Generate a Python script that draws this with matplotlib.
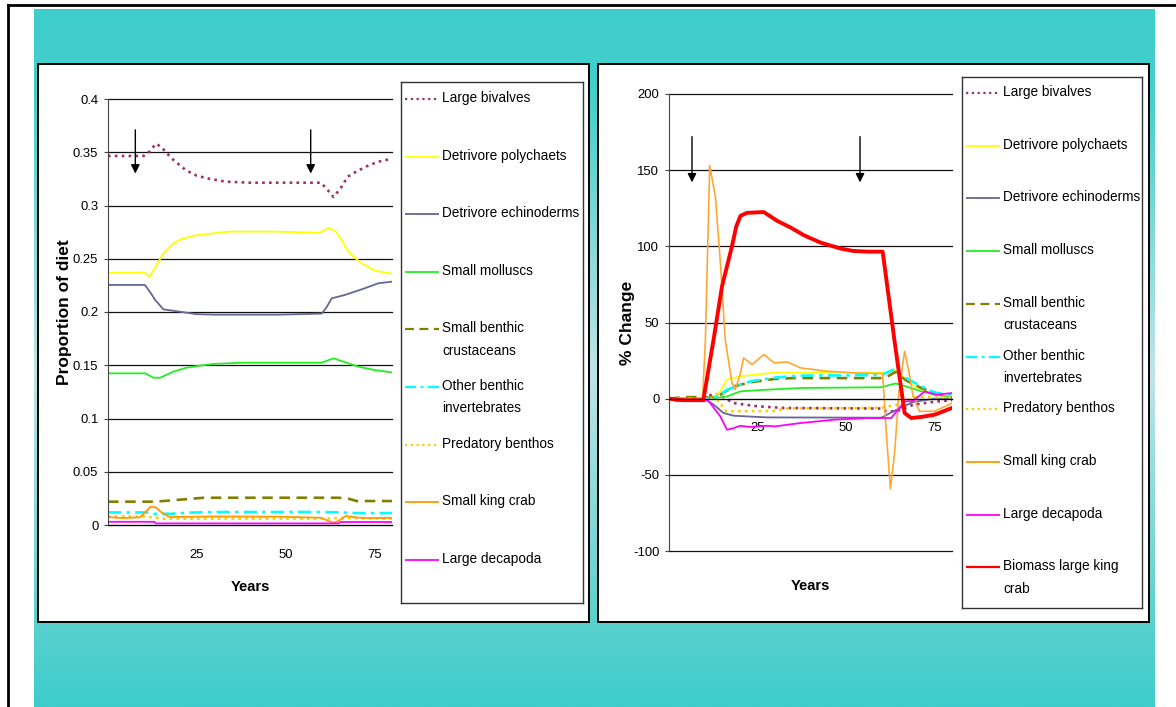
"""Diet proportion and % change of benthic prey groups under large king crab biomass pulse."""

import matplotlib
matplotlib.use("Agg")
import matplotlib.pyplot as plt
import numpy as np
from matplotlib import font_manager as fm
from matplotlib.colors import LinearSegmentedColormap
from matplotlib.lines import Line2D
from matplotlib.patches import Rectangle

W, H = 1176, 707

# ---------------- data ----------------
# left panel: proportion of diet
L_BIV_X = [0, 10, 11.5, 13.5, 15, 18, 22, 25, 28, 33, 40, 50, 60, 61.5, 63.5, 65.5, 67.5, 70, 73, 76, 80]
L_BIV_Y = [0.3465, 0.3465, 0.350, 0.358, 0.355, 0.344, 0.333, 0.328, 0.3255, 0.3224, 0.3214, 0.3214,
           0.3214, 0.316, 0.308, 0.316, 0.327, 0.332, 0.337, 0.341, 0.344]
L_POL_X = [0, 10.4, 11.6, 13, 15.6, 18.4, 21, 24.9, 30, 34.2, 47, 59.7, 62, 64, 65.8, 67.7, 69.5, 71.5, 75.2, 80]
L_POL_Y = [0.237, 0.237, 0.233, 0.240, 0.255, 0.2645, 0.269, 0.272, 0.274, 0.2755, 0.2755, 0.2745, 0.279,
           0.276, 0.2676, 0.2566, 0.251, 0.2457, 0.2388, 0.236]
L_ECH_X = [0, 10.4, 12, 13.3, 15.6, 20.2, 24.9, 30, 48, 60.2, 61.5, 63, 66.7, 71.5, 76.2, 80]
L_ECH_Y = [0.2254, 0.2254, 0.218, 0.2113, 0.2025, 0.2003, 0.198, 0.1975, 0.1975, 0.1985, 0.204, 0.2128,
           0.216, 0.2213, 0.227, 0.2285]
L_MOL_X = [0, 10.5, 12.8, 14.7, 18.4, 22.1, 25.8, 29.6, 37.9, 60.2, 63.5, 67.7, 70.5, 75.1, 80]
L_MOL_Y = [0.1424, 0.1424, 0.1383, 0.1383, 0.144, 0.1477, 0.1496, 0.1512, 0.1524, 0.1524, 0.1565, 0.1518,
           0.1487, 0.1455, 0.1433]
L_CRU_X = [0, 12, 16, 20, 27, 65, 68, 70, 80]
L_CRU_Y = [0.0219, 0.0219, 0.0226, 0.0237, 0.0256, 0.0256, 0.0245, 0.0225, 0.0225]
L_INV_X = [0, 11, 13, 18, 22, 30, 60, 66, 70, 80]
L_INV_Y = [0.0118, 0.0118, 0.0105, 0.0105, 0.0115, 0.0122, 0.0122, 0.0118, 0.0112, 0.0112]
L_PRE_X = [0, 10, 13, 16, 30, 60, 65, 68, 80]
L_PRE_Y = [0.008, 0.008, 0.007, 0.0058, 0.006, 0.006, 0.0065, 0.0065, 0.006]
L_SKC_X = [0, 4, 9, 10.5, 12, 13.5, 15, 17, 18, 30, 48, 60, 62, 63.5, 65, 67, 69, 72, 80]
L_SKC_Y = [0.0075, 0.0065, 0.0072, 0.012, 0.0172, 0.0165, 0.012, 0.008, 0.0075, 0.008, 0.0078, 0.0068,
           0.004, 0.002, 0.004, 0.0085, 0.0075, 0.0065, 0.0065]
L_DEC_X = [0, 13, 13.5, 65, 65.5, 80]
L_DEC_Y = [0.003, 0.003, 0.0015, 0.0015, 0.0028, 0.0028]

# right panel: % change
R_BIV_X = [0, 10, 12.3, 14, 16, 18.3, 24.9, 32.4, 60, 61.5, 64.4, 69, 75, 80]
R_BIV_Y = [0, 0, 3, 3, 0, -2.9, -5, -6.1, -6.5, -8.3, -8.3, -4, -2, -1]
R_POL_X = [0, 11, 12.5, 14.5, 16.4, 20.2, 25.9, 30, 62, 63.5, 65.5, 69.4, 75, 80]
R_POL_Y = [0, 0, 1, 4.8, 12.5, 14.7, 16.2, 17.1, 17.1, 19, 16, 8.1, 2.6, 1]
R_ECH_X = [0, 10, 12.6, 15.4, 18.3, 27.7, 60, 64.4, 69, 75, 80]
R_ECH_Y = [0, 0, -3.9, -9.4, -11.2, -12.3, -12.5, -7.2, -2.2, 0, 0]
R_MOL_X = [0, 12, 16.4, 20.2, 27.7, 37.2, 60, 64, 67, 71.3, 75, 80]
R_MOL_Y = [0, 0, 1.5, 4.8, 5.9, 7, 7.5, 10, 8, 4.8, 2.6, 1]
R_CRU_X = [0, 4, 10, 12, 14.5, 18.3, 23, 29.7, 35, 61, 64, 67, 71.3, 75, 80]
R_CRU_Y = [0, 1, 1, 0.5, 2.6, 8.1, 10.7, 12.9, 13.5, 13.5, 17.5, 12, 7, 4, 1]
R_INV_X = [0, 12, 14, 16.4, 23, 30.6, 37.2, 60, 63.5, 66, 69.4, 75, 80]
R_INV_Y = [0, 0, 2, 5.9, 11.4, 14, 15.1, 15.5, 19, 15, 10.5, 4, 2]
R_PRE_X = [0, 12, 14.5, 15.4, 16.4, 30, 33, 60, 64.4, 69.4, 80]
R_PRE_Y = [0, 0, -1.8, -7.2, -8.3, -8, -6.5, -6, -4, 1, 1]
R_SKC_X = [0, 9.5, 10.3, 11.5, 13.1, 14.5, 15.9, 17.8, 18.7, 20, 21.1, 23.5, 26.8, 29.7, 33.4, 37.2, 44.8,
           52.4, 60.4, 61.5, 62.6, 63.8, 65, 66.6, 67.8, 69, 70.8, 75, 80]
R_SKC_Y = [0, 0, 38.8, 153, 133, 90, 38.8, 10.3, 6, 15, 26.8, 22.4, 29, 23.5, 24.1, 20.2, 18, 16.9, 16.4,
           -25, -59.4, -35, 5, 31.1, 18, 1.5, -8.3, -8.3, -3]
R_DEC_X = [0, 2, 10, 11, 14.5, 16.4, 18.3, 20.2, 23, 27.7, 30, 37.2, 46.7, 56.2, 62.8, 66.6, 69, 72.3, 75.6, 80]
R_DEC_Y = [0, -1.5, -1.5, -1, -11.6, -20.4, -19.3, -17.8, -18.6, -17.8, -18.2, -16, -13.8, -12.7, -12.7,
           -1.8, -1.5, 4.8, 2.6, 3.7]
R_BIO_X = [0, 4, 9.7, 12.6, 15, 17.8, 19, 20.2, 22.1, 26.8, 30.6, 34.4, 38.2, 42.9, 48.6, 52, 56.2, 60.4,
           63.7, 66.6, 68.5, 71.3, 75.1, 80]
R_BIO_Y = [0, -1, -1, 38.8, 73.9, 100, 113, 120, 122, 122.5, 116.7, 112.3, 107.2, 102.4, 98.5, 97, 96.5,
           96.5, 38.8, -9.4, -12.7, -12, -10.5, -6.1]

LABELS = ["Large bivalves", "Detrivore polychaets", "Detrivore echinoderms", "Small molluscs",
          "Small benthic\ncrustaceans", "Other benthic\ninvertebrates", "Predatory benthos",
          "Small king crab", "Large decapoda", "Biomass large king\ncrab"]

LEFT_YTICKS = [0, 0.05, 0.1, 0.15, 0.2, 0.25, 0.3, 0.35, 0.4]
LEFT_YTICKLABELS = ["0", "0.05", "0.1", "0.15", "0.2", "0.25", "0.3", "0.35", "0.4"]
RIGHT_YTICKS = [-100, -50, 0, 50, 100, 150, 200]
XTICKS = [25, 50, 75]

# harvesting start/stop markers
LEFT_ARROW_X = [7.7, 57.1]
LEFT_ARROW_Y = (0.371, 0.330)
RIGHT_ARROW_X = [6.5, 54]
RIGHT_ARROW_Y = (172, 142)

# ---------------- styles ----------------
STYLES = [
    dict(color="#993366", ls=(0, (1, 1.6)), lw=1.9),   # large bivalves
    dict(color="#FFFF00", ls="-", lw=1.3),             # polychaets
    dict(color="#666699", ls="-", lw=1.3),             # echinoderms
    dict(color="#22EE22", ls="-", lw=1.3),             # molluscs
    dict(color="#808000", ls=(0, (4, 2.5)), lw=1.9),   # crustaceans
    dict(color="#00FFFF", ls=(0, (5, 2, 1.3, 2)), lw=1.9),  # other invertebrates
    dict(color="#FFCC00", ls=(0, (1, 1.6)), lw=1.9),   # predatory benthos
    dict(color="#FF9900", ls="-", lw=1.3),             # small king crab
    dict(color="#FF00FF", ls="-", lw=1.3),             # large decapoda
    dict(color="#FF0000", ls="-", lw=2.8),             # biomass large king crab
]


def pick_font():
    names = {f.name for f in fm.fontManager.ttflist}
    for cand in ("Liberation Sans Narrow", "Arial Narrow"):
        if cand in names:
            return [cand, "DejaVu Sans"], 1.0
    fams = [n for n in ("Liberation Sans", "DejaVu Sans") if n in names]
    return fams or ["DejaVu Sans"], 0.82


FAMILY, FS = pick_font()
plt.rcParams["font.family"] = FAMILY
plt.rcParams["axes.unicode_minus"] = False

TICK_FS = 11.5 * FS
LEG_FS = 12 * FS
XLAB_FS = 13 * FS


def fx(px):
    return px / W


def fy(py):
    return 1 - py / H


def axes_rect(x0, y0, x1, y1):
    return [fx(x0), fy(y1), fx(x1) - fx(x0), fy(y0) - fy(y1)]


fig = plt.figure(figsize=(W / 100, H / 100), dpi=100)
fig.patch.set_facecolor("white")

# teal gradient background
bg = fig.add_axes(axes_rect(34, 9, 1155, 707), zorder=-10)
cmap = LinearSegmentedColormap.from_list(
    "bg", [(0, "#3DCDCB"), (0.13, "#45CFCD"), (0.52, "#C0E4E7"), (0.87, "#5CD1CF"), (1, "#3DCDCB")])
bg.imshow(np.linspace(0, 1, 256).reshape(-1, 1), aspect="auto", cmap=cmap, extent=(0, 1, 0, 1))
bg.set_axis_off()

# outer frame lines
fig.add_artist(Line2D([fx(8), 1], [fy(5), fy(5)], color="black", lw=2))
fig.add_artist(Line2D([fx(8), fx(8)], [fy(5), 0], color="black", lw=2))

# white panels
for x0, x1 in ((38, 589), (598, 1149)):
    fig.add_artist(Rectangle((fx(x0), fy(622)), fx(x1) - fx(x0), fy(64) - fy(622),
                             facecolor="white", edgecolor="black", lw=1.4, zorder=-5))


def style_axes(ax):
    ax.set_facecolor("none")
    ax.set_xlim(0, 80)
    ax.set_xticks(XTICKS)
    ax.grid(axis="y", color="#111111", lw=0.9)
    ax.set_axisbelow(True)
    for gl in ax.get_ygridlines():
        gl.set_clip_on(False)
    for s in ("top", "right"):
        ax.spines[s].set_visible(False)
    ax.spines["left"].set_color("#444444")
    ax.spines["bottom"].set_color("black")
    ax.spines["bottom"].set_position(("data", 0))
    ax.tick_params(axis="y", length=3, width=0.8, pad=4, labelsize=TICK_FS, color="#444444")
    ax.tick_params(axis="x", length=0, pad=17, labelsize=TICK_FS)


def add_arrows(ax, xs, ys):
    for xa in xs:
        ax.annotate("", xy=(xa, ys[1]), xytext=(xa, ys[0]),
                    arrowprops=dict(arrowstyle="-|>", color="black", lw=1, mutation_scale=13,
                                    shrinkA=0, shrinkB=0))


# ---------------- left panel ----------------
ax1 = fig.add_axes(axes_rect(108, 99, 392, 525))
left_series = [(L_BIV_X, L_BIV_Y), (L_POL_X, L_POL_Y), (L_ECH_X, L_ECH_Y), (L_MOL_X, L_MOL_Y),
               (L_CRU_X, L_CRU_Y), (L_INV_X, L_INV_Y), (L_PRE_X, L_PRE_Y), (L_SKC_X, L_SKC_Y),
               (L_DEC_X, L_DEC_Y)]
for (xs, ys), st in zip(left_series, STYLES):
    ax1.plot(xs, ys, color=st["color"], ls=st["ls"], lw=st["lw"])
ax1.set_ylim(0, 0.4)
ax1.set_yticks(LEFT_YTICKS, LEFT_YTICKLABELS)
style_axes(ax1)
add_arrows(ax1, LEFT_ARROW_X, LEFT_ARROW_Y)
ax1.set_xlabel("Years", fontsize=XLAB_FS, fontweight="bold")
ax1.xaxis.set_label_coords(0.5, -0.128)
ax1.set_ylabel("Proportion of diet", fontsize=12.5, fontweight="bold")
ax1.yaxis.set_label_coords(-0.125, 0.5)

# ---------------- right panel ----------------
ax2 = fig.add_axes(axes_rect(669, 94, 952, 551))
right_series = [(R_BIV_X, R_BIV_Y), (R_POL_X, R_POL_Y), (R_ECH_X, R_ECH_Y), (R_MOL_X, R_MOL_Y),
                (R_CRU_X, R_CRU_Y), (R_INV_X, R_INV_Y), (R_PRE_X, R_PRE_Y), (R_SKC_X, R_SKC_Y),
                (R_DEC_X, R_DEC_Y), (R_BIO_X, R_BIO_Y)]
for k, ((xs, ys), st) in enumerate(zip(right_series, STYLES)):
    col = "#FFA733" if k == 7 else st["color"]
    ax2.plot(xs, ys, color=col, ls=st["ls"], lw=st["lw"] if k != 7 else 1.2)
ax2.set_ylim(-100, 200)
ax2.set_yticks(RIGHT_YTICKS)
style_axes(ax2)
add_arrows(ax2, RIGHT_ARROW_X, RIGHT_ARROW_Y)
ax2.set_xlabel("Years", fontsize=XLAB_FS, fontweight="bold")
ax2.xaxis.set_label_coords(0.5, -0.062)
ax2.set_ylabel("% Change", fontsize=12.5, fontweight="bold")
ax2.yaxis.set_label_coords(-0.12, 0.5)


# ---------------- legends ----------------
def legend_box(x0, y0, x1, y1, labels, first, slot):
    lax = fig.add_axes(axes_rect(x0, y0, x1, y1))
    lax.set_xlim(x0, x1)
    lax.set_ylim(y1, y0)
    lax.set_xticks([])
    lax.set_yticks([])
    for s in lax.spines.values():
        s.set_color("#333333")
        s.set_linewidth(1)
    for i, (lab, st) in enumerate(zip(labels, STYLES)):
        yy = first + i * slot
        lax.plot([x0 + 4, x0 + 38], [yy, yy], color=st["color"], ls=st["ls"],
                 lw=min(st["lw"], 1.6), solid_capstyle="butt")
        lax.text(x0 + 41, yy - 8, lab, va="top", ha="left", fontsize=LEG_FS, linespacing=1.75)


legend_box(401, 82, 583, 603, LABELS[:9], 99, 57.6)
legend_box(962, 77, 1142, 608, LABELS, 93, 52.7)

fig.savefig("out.png", dpi=100)
